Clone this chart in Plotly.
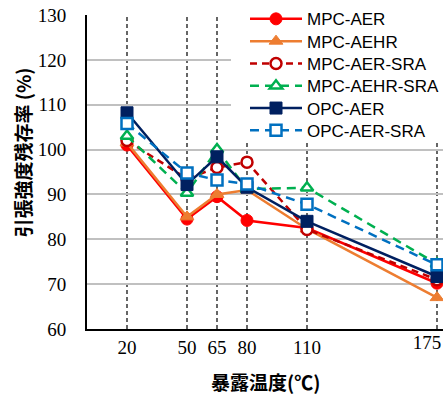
import plotly.graph_objects as go

temps = [20, 50, 65, 80, 110, 175]
tick_labels = ["20", "50", "65", "80", "110", "175"]
y_ticks = [60, 70, 80, 90, 100, 110, 120, 130]

mpc_aer = [101.0, 84.5, 89.5, 84.2, 82.5, 70.2]
mpc_aehr = [101.5, 85.0, 90.0, 91.0, 82.3, 67.0]
mpc_aer_sra = [102.0, 93.5, 96.0, 97.2, 82.2, 71.0]
mpc_aehr_sra = [103.0, 90.3, 100.0, 91.2, 91.5, 74.5]
opc_aer = [108.2, 92.2, 98.4, 91.6, 84.0, 71.7]
opc_aer_sra = [105.8, 94.8, 93.2, 92.3, 87.8, 74.3]

series = [
    ("MPC-AER", mpc_aer, "#ff0000", "solid", "circle", True),
    ("MPC-AEHR", mpc_aehr, "#ed7d31", "solid", "triangle-up", True),
    ("MPC-AER-SRA", mpc_aer_sra, "#c00000", "7px,5px", "circle", False),
    ("MPC-AEHR-SRA", mpc_aehr_sra, "#00b050", "9px,6px", "triangle-up", False),
    ("OPC-AER", opc_aer, "#002060", "solid", "square", True),
    ("OPC-AER-SRA", opc_aer_sra, "#0070c0", "9px,6px", "square", False),
]

# plot geometry (page body margin is removed in post_script)
FIG_W, FIG_H = 443, 394
ML, MR, MT, MB = 87, 0, 15, 65
PW, PH = FIG_W - ML - MR, FIG_H - MT - MB

fig = go.Figure()
legend_defs = {}
row_gap = 22.3
first_row = 18.3
leg_font = dict(family="Liberation Sans, Arial, sans-serif", size=17, color="black")
for i, (name, vals, col, dash, sym, filled) in enumerate(series):
    if filled:
        marker = dict(symbol=sym, size=12, color=col, line=dict(color=col, width=1))
    else:
        marker = dict(symbol=sym, size=11, color="white", line=dict(color=col, width=2.5))
    lid = "legend" if i == 0 else f"legend{i + 1}"
    fig.add_trace(go.Scatter(
        x=temps, y=vals, name=name, mode="lines+markers",
        line=dict(color=col, width=2.5, dash=dash),
        marker=marker, cliponaxis=False, legend=lid,
    ))
    center = first_row + row_gap * i
    top = center - 17
    legend_defs[lid] = dict(
        x=(245 - ML) / PW, y=1 - (top - MT) / PH, xanchor="left", yanchor="top",
        bgcolor="rgba(0,0,0,0)", borderwidth=0, font=leg_font, itemwidth=52,
    )

# empty trace so the overlaying axis for the last tick label is drawn
fig.add_trace(go.Scatter(x=[], y=[], xaxis="x2", yaxis="y", showlegend=False,
                         hoverinfo="skip"))

for t in temps:
    fig.add_shape(type="line", xref="x", yref="paper", x0=t, x1=t, y0=0, y1=1,
                  line=dict(color="black", width=1.2, dash="4px,3px"), layer="below")

# white legend box
fig.add_shape(type="rect", xref="paper", yref="paper",
              x0=(231 - ML) / PW, x1=1.02, y0=1 - (142 - MT) / PH, y1=1.1,
              fillcolor="white", line=dict(width=0), layer="above")

serif = "Liberation Serif, Times New Roman, serif"
cjk = "Noto Sans CJK JP, sans-serif"
tick_font = dict(family=serif, size=19, color="black")

fig.update_layout(
    width=FIG_W, height=FIG_H,
    margin=dict(l=ML, r=MR, t=MT, b=MB, autoexpand=False),
    plot_bgcolor="white", paper_bgcolor="white",
    showlegend=True,
    xaxis=dict(
        range=[0, 178], tickmode="array", tickvals=temps[:-1], ticktext=tick_labels[:-1],
        showgrid=False, zeroline=False, automargin=False,
        showline=True, linecolor="black", linewidth=2,
        ticks="", ticklabelstandoff=0, ticklabeloverflow="allow",
        tickfont=tick_font,
    ),
    # last tick label sits at the right edge; drawn on an overlaying axis nudged left
    xaxis2=dict(
        range=[0, 178], overlaying="x", anchor="y", side="bottom",
        tickmode="array", tickvals=temps[-1:], ticktext=tick_labels[-1:],
        showgrid=False, zeroline=False, automargin=False, showline=False,
        ticks="", ticklabelstandoff=0, ticklabelshift=-10, ticklabeloverflow="allow",
        tickfont=tick_font,
    ),
    yaxis=dict(
        range=[60, 130], tickmode="array", tickvals=y_ticks,
        showgrid=True, gridcolor="#c0c0c0", gridwidth=2, zeroline=False, automargin=False,
        showline=True, linecolor="black", linewidth=2,
        ticks="", ticklabelstandoff=15, ticklabeloverflow="allow",
        tickfont=tick_font,
    ),
    annotations=[
        dict(text="<b>暴露温度(℃)</b>", xref="paper", yref="paper",
             x=0.5, y=-(381 - (MT + PH)) / PH, xanchor="center", yanchor="middle",
             showarrow=False, font=dict(family=cjk, size=19, color="black")),
        dict(text="<b>引張強度残存率 (%)</b>", xref="paper", yref="paper",
             x=(22 - ML) / PW, y=1 - (152.5 - MT) / PH, xanchor="center", yanchor="middle",
             textangle=-90, showarrow=False, font=dict(family=cjk, size=19, color="black")),
    ],
    **legend_defs,
)

fig.write_html("out.html", post_script="document.body.style.margin='0';",
               config={"displayModeBar": False})
